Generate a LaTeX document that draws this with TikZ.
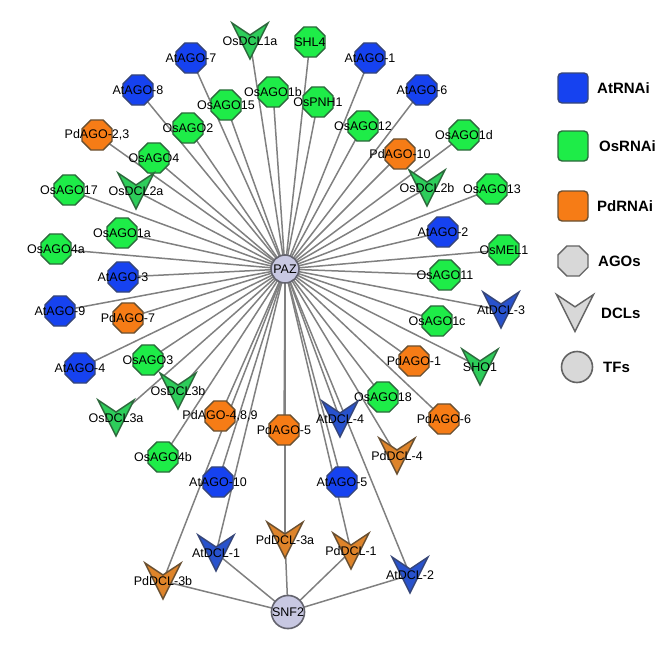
\documentclass[tikz,border=0pt]{standalone}
\usepackage{fontspec}
\setmainfont{Liberation Sans}
\usetikzlibrary{shapes.geometric,backgrounds}
\makeatletter
\pgfdeclareshape{veeshape}{
  \inheritsavedanchors[from=rectangle]
  \inheritanchorborder[from=rectangle]
  \inheritanchor[from=rectangle]{center}
  \inheritanchor[from=rectangle]{north}
  \inheritanchor[from=rectangle]{south}
  \backgroundpath{
    \southwest \pgf@xa=\pgf@x \pgf@ya=\pgf@y
    \northeast \pgf@xb=\pgf@x \pgf@yb=\pgf@y
    \pgf@xc=.5\pgf@xa \advance\pgf@xc by .5\pgf@xb
    \pgf@yc=.6667\pgf@yb \advance\pgf@yc by .3333\pgf@ya
    \pgfpathmoveto{\pgfqpoint{\pgf@xa}{\pgf@yb}}
    \pgfpathlineto{\pgfqpoint{\pgf@xc}{\pgf@yc}}
    \pgfpathlineto{\pgfqpoint{\pgf@xb}{\pgf@yb}}
    \pgfpathlineto{\pgfqpoint{\pgf@xc}{\pgf@ya}}
    \pgfpathclose
  }
}
\makeatother
\definecolor{atb}{RGB}{22,66,240}
\definecolor{atbd}{RGB}{55,70,120}
\definecolor{osg}{RGB}{30,236,72}
\definecolor{osgd}{RGB}{45,105,60}
\definecolor{pdo}{RGB}{246,124,22}
\definecolor{pdod}{RGB}{105,80,50}
\definecolor{atv}{RGB}{40,82,205}
\definecolor{osv}{RGB}{45,205,90}
\definecolor{pdv}{RGB}{222,132,42}
\definecolor{tff}{RGB}{200,200,226}
\definecolor{tfd}{RGB}{100,100,110}
\definecolor{legf}{RGB}{216,216,216}
\definecolor{legd}{RGB}{100,100,100}
\definecolor{edgec}{RGB}{128,128,128}
\tikzset{
  every label/.style={font=\fontsize{12.5}{13}\selectfont, inner sep=0pt, text=black},
  agobase/.style={regular polygon, regular polygon sides=8, minimum size=32.5pt, inner sep=0pt, outer sep=0pt, line width=1.4pt},
  agoAt/.style={agobase, fill=atb, draw=atbd},
  agoOs/.style={agobase, fill=osg, draw=osgd},
  agoPd/.style={agobase, fill=pdo, draw=pdod},
  veebase/.style={veeshape, minimum width=36pt, minimum height=36pt, inner sep=0pt, outer sep=0pt, line width=1.4pt, line join=miter},
  dclAt/.style={veebase, fill=atv, draw=atbd},
  dclOs/.style={veebase, fill=osv, draw=osgd},
  dclPd/.style={veebase, fill=pdv, draw=pdod},
  tf/.style={circle, minimum size=28pt, inner sep=0pt, fill=tff, draw=tfd, line width=1.6pt, font=\fontsize{12.5}{13}\selectfont},
  edge/.style={draw=edgec, line width=1.5pt},
  legsq/.style={rectangle, rounded corners=4pt, minimum size=30pt, inner sep=0pt, line width=1.4pt},
  legtext/.style={anchor=west, inner sep=0pt, font=\bfseries\fontsize{15}{16}\selectfont},
}
\begin{document}
\begin{tikzpicture}[x=1pt,y=-1pt]
\useasboundingbox (0,0) rectangle (669,661);
% hubs
\node[tf] (PAZ) at (285,269) {PAZ};
\node[tf, minimum size=30pt] (SNF2) at (288,612) {SNF2};
% AtRNAi AGOs
\node[agoAt, label={center:AtAGO-7}] (AtAGO7) at (191,58) {};
\node[agoAt, label={center:AtAGO-8}] (AtAGO8) at (138,90) {};
\node[agoAt, label={center:AtAGO-1}] (AtAGO1) at (370,58) {};
\node[agoAt, label={center:AtAGO-6}] (AtAGO6) at (422,90) {};
\node[agoAt, label={center:AtAGO-2}] (AtAGO2) at (443,232) {};
\node[agoAt, label={center:AtAGO-3}] (AtAGO3) at (123,277) {};
\node[agoAt, label={center:AtAGO-9}] (AtAGO9) at (60,311) {};
\node[agoAt, label={center:AtAGO-4}] (AtAGO4) at (80,368) {};
\node[agoAt, label={center:AtAGO-10}] (AtAGO10) at (218,482) {};
\node[agoAt, label={center:AtAGO-5}] (AtAGO5) at (342,482) {};
% OsRNAi AGOs
\node[agoOs, label={center:SHL4}] (SHL4) at (310,42) {};
\node[agoOs, label={center:OsAGO1b}] (OsAGO1b) at (273,92) {};
\node[agoOs, label={center:OsAGO15}] (OsAGO15) at (226,105) {};
\node[agoOs, label={center:OsPNH1}] (OsPNH1) at (318,102) {};
\node[agoOs, label={center:OsAGO2}] (OsAGO2) at (188,128) {};
\node[agoOs, label={center:OsAGO4}] (OsAGO4) at (154,158) {};
\node[agoOs, label={center:OsAGO17}] (OsAGO17) at (69,190) {};
\node[agoOs, label={center:OsAGO12}] (OsAGO12) at (363,126) {};
\node[agoOs, label={center:OsAGO1d}] (OsAGO1d) at (464,135) {};
\node[agoOs, label={center:OsAGO13}] (OsAGO13) at (492,189) {};
\node[agoOs, label={center:OsMEL1}] (OsMEL1) at (504,250) {};
\node[agoOs, label={center:OsAGO11}] (OsAGO11) at (445,275) {};
\node[agoOs, label={center:OsAGO1c}] (OsAGO1c) at (437,321) {};
\node[agoOs, label={center:OsAGO18}] (OsAGO18) at (383,397) {};
\node[agoOs, label={center:OsAGO1a}] (OsAGO1a) at (122,233) {};
\node[agoOs, label={center:OsAGO4a}] (OsAGO4a) at (56,249) {};
\node[agoOs, label={center:OsAGO3}] (OsAGO3) at (148,360) {};
\node[agoOs, label={center:OsAGO4b}] (OsAGO4b) at (163,457) {};
% PdRNAi AGOs
\node[agoPd, label={center:PdAGO-2,3}] (PdAGO23) at (97,135) {};
\node[agoPd, label={center:PdAGO-10}] (PdAGO10) at (400,154) {};
\node[agoPd, label={center:PdAGO-1}] (PdAGO1) at (414,361) {};
\node[agoPd, label={center:PdAGO-6}] (PdAGO6) at (444,419) {};
\node[agoPd, label={center:PdAGO-7}] (PdAGO7) at (128,318) {};
\node[agoPd, label={center:PdAGO-4,8,9}] (PdAGO489) at (220,416) {};
\node[agoPd, label={center:PdAGO-5}] (PdAGO5) at (284,430) {};
% DCLs
\node[dclOs, label={center:OsDCL1a}] (OsDCL1a) at (250,41) {};
\node[dclOs, label={center:OsDCL2a}] (OsDCL2a) at (136,191) {};
\node[dclOs, label={center:OsDCL2b}] (OsDCL2b) at (427,188) {};
\node[dclOs, label={center:SHO1}] (SHO1) at (480,367) {};
\node[dclOs, label={center:OsDCL3b}] (OsDCL3b) at (178,391) {};
\node[dclOs, label={center:OsDCL3a}] (OsDCL3a) at (116,418) {};
\node[dclAt, label={center:AtDCL-3}] (AtDCL3) at (501,310) {};
\node[dclAt, label={center:AtDCL-4}] (AtDCL4) at (340,419) {};
\node[dclAt, label={center:AtDCL-1}] (AtDCL1) at (216,553) {};
\node[dclAt, label={center:AtDCL-2}] (AtDCL2) at (410,575) {};
\node[dclPd, label={center:PdDCL-4}] (PdDCL4) at (397,456) {};
\node[dclPd, label={center:PdDCL-3a}] (PdDCL3a) at (285,540) {};
\node[dclPd, label={center:PdDCL-1}] (PdDCL1) at (351,551) {};
\node[dclPd, label={center:PdDCL-3b}] (PdDCL3b) at (163,581) {};
% edges
\begin{pgfonlayer}{background}
\foreach \n in {AtAGO7,AtAGO8,AtAGO1,AtAGO6,AtAGO2,AtAGO3,AtAGO9,AtAGO4,AtAGO10,AtAGO5,
  SHL4,OsAGO1b,OsAGO15,OsPNH1,OsAGO2,OsAGO4,OsAGO17,OsAGO12,OsAGO1d,OsAGO13,OsMEL1,OsAGO11,OsAGO1c,OsAGO18,OsAGO1a,OsAGO4a,OsAGO3,OsAGO4b,
  PdAGO23,PdAGO10,PdAGO1,PdAGO6,PdAGO7,PdAGO489,PdAGO5,
  OsDCL1a,OsDCL2a,OsDCL2b,SHO1,OsDCL3b,OsDCL3a,AtDCL3,AtDCL4,AtDCL1,AtDCL2,PdDCL4,PdDCL3a,PdDCL1,PdDCL3b}
  \draw[edge] (PAZ.center) -- (\n.center);
\foreach \n in {PdDCL3b,AtDCL1,PdDCL3a,PdDCL1,AtDCL2}
  \draw[edge] (SNF2.center) -- (\n.center);
\end{pgfonlayer}
% legend
\node[legsq, fill=atb, draw=atbd] (legAt) at (573,88) {};
\node[legtext] (legAtT) at (597,88) {AtRNAi};
\node[legsq, fill=osg, draw=osgd] (legOs) at (573,146) {};
\node[legtext] (legOsT) at (599,146) {OsRNAi};
\node[legsq, fill=pdo, draw=pdod] (legPd) at (573,206) {};
\node[legtext] (legPdT) at (597,206) {PdRNAi};
\node[agobase, fill=legf, draw=legd] (legAgo) at (573,261) {};
\node[legtext] (legAgoT) at (598,261) {AGOs};
\node[veebase, minimum width=37pt, minimum height=37pt, fill=legf, draw=legd] (legDcl) at (575,313) {};
\node[legtext] (legDclT) at (601,313) {DCLs};
\node[circle, minimum size=31pt, inner sep=0pt, fill=legf, draw=legd, line width=1.6pt] (legTf) at (577,367) {};
\node[legtext] (legTfT) at (603,367) {TFs};
\end{tikzpicture}
\end{document}
